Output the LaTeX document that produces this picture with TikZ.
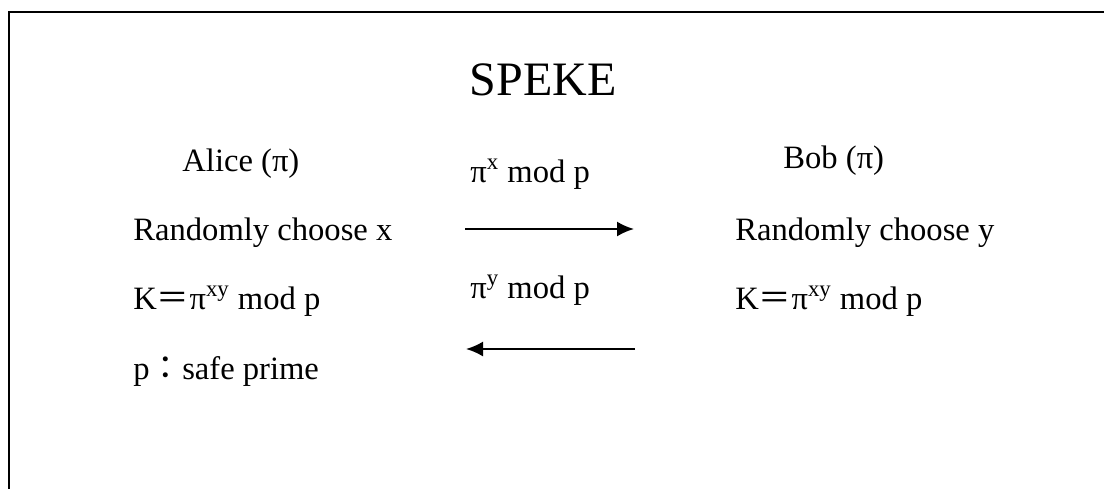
\documentclass[tikz,border=0pt]{standalone}
\usepackage{fontspec}
\setmainfont{Liberation Serif}
\newfontfamily\cjk{Noto Sans CJK TC}
\usetikzlibrary{arrows.meta}

\tikzset{
  txt/.style={anchor=base west, inner sep=0pt, font=\fontsize{16.3}{19}\selectfont},
  msgarrow/.style={-{Latex[length=8.5pt,width=7.5pt]}, line width=1pt},
}

\begin{document}
\begin{tikzpicture}[x=0.5pt, y=-0.5pt]
\useasboundingbox (0,0) rectangle (1104,489);
%%%%% Frame %%%%%
\draw[line width=1.3pt] (1104,12) -- (9,12) -- (9,489);
%%%%% Title %%%%%
\node[anchor=base, inner sep=0pt, font=\fontsize{24}{28}\selectfont] (title) at (543,95) {SPEKE};
%%%%% Alice %%%%%
\node[txt] (alice) at (182,171) {Alice (π)};
\node[txt] (randx) at (133,240) {Randomly choose x};
\node[txt] (keya) at (133,309) {K{\cjk ＝}π\textsuperscript{xy} mod p};
\node[txt] (prime) at (133,379) {p{\cjk ：}safe prime};
%%%%% Bob %%%%%
\node[txt] (bob) at (783,168) {Bob (π)};
\node[txt] (randy) at (735,240) {Randomly choose y};
\node[txt] (keyb) at (735,309) {K{\cjk ＝}π\textsuperscript{xy} mod p};
%%%%% Messages %%%%%
\node[txt] (msgx) at (470,182) {π\textsuperscript{x} mod p};
\node[txt] (msgy) at (470,298) {π\textsuperscript{y} mod p};
\coordinate (xfrom) at (465,229);
\coordinate (xto) at (634,229);
\coordinate (yfrom) at (635,349);
\coordinate (yto) at (466,349);
\draw[msgarrow] (xfrom) -- (xto);
\draw[msgarrow] (yfrom) -- (yto);
\end{tikzpicture}
\end{document}
